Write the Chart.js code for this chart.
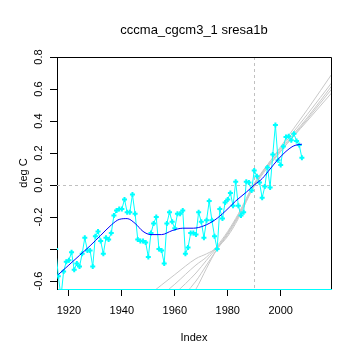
<!DOCTYPE html>
<html>
<head>
<meta charset="utf-8">
<script src="https://cdn.jsdelivr.net/npm/chart.js@4.4.0/dist/chart.umd.min.js"></script>
<style>
  html, body { margin: 0; padding: 0; background: #fff; }
  canvas { display: block; }
</style>
</head>
<body>
<canvas id="tempChart" width="360" height="360"></canvas>
<script>
const chartTitle = 'cccma_cgcm3_1 sresa1b';

// observed yearly anomalies (cyan)
const years = [1915, 1916, 1917, 1918, 1919, 1920, 1921, 1922, 1923, 1924,
  1925, 1926, 1927, 1928, 1929, 1930, 1931, 1932, 1933, 1934,
  1935, 1936, 1937, 1938, 1939, 1940, 1941, 1942, 1943, 1944,
  1945, 1946, 1947, 1948, 1949, 1950, 1951, 1952, 1953, 1954,
  1955, 1956, 1957, 1958, 1959, 1960, 1961, 1962, 1963, 1964,
  1965, 1966, 1967, 1968, 1969, 1970, 1971, 1972, 1973, 1974,
  1975, 1976, 1977, 1978, 1979, 1980, 1981, 1982, 1983, 1984,
  1985, 1986, 1987, 1988, 1989, 1990, 1991, 1992, 1993, 1994,
  1995, 1996, 1997, 1998, 1999, 2000, 2001, 2002, 2003, 2004,
  2005, 2006, 2007, 2008];
const anomaly = [-0.40, -0.57, -0.70, -0.54, -0.48, -0.47, -0.42, -0.53, -0.49, -0.51,
  -0.43, -0.33, -0.41, -0.41, -0.51, -0.32, -0.29, -0.35, -0.43, -0.33,
  -0.34, -0.30, -0.19, -0.16, -0.15, -0.15, -0.09, -0.17, -0.17, -0.06,
  -0.18, -0.34, -0.35, -0.35, -0.36, -0.45, -0.30, -0.24, -0.20, -0.40,
  -0.41, -0.49, -0.24, -0.17, -0.23, -0.27, -0.18, -0.18, -0.16, -0.43,
  -0.39, -0.30, -0.30, -0.31, -0.17, -0.23, -0.33, -0.22, -0.10, -0.22,
  -0.32, -0.40, -0.15, -0.21, -0.11, -0.09, -0.05, -0.13, 0.02, -0.13,
  -0.19, -0.17, 0.02, 0.015, -0.035, 0.09, 0.055, 0.015, -0.08, -0.01,
  0.11, -0.015, 0.19, 0.375, 0.155, 0.125, 0.24, 0.30, 0.305, 0.28,
  0.32, 0.275, 0.25, 0.17];

// smoothed curve (blue)
const smoothYears = [1916, 1920, 1924, 1928, 1932, 1936, 1939, 1942, 1945, 1948,
  1951, 1955, 1959, 1963, 1967, 1971, 1975, 1979, 1983, 1987,
  1990, 1993, 1996, 1999, 2002, 2005, 2008];
const smoothVals = [-0.56, -0.50, -0.44, -0.38, -0.315, -0.25, -0.215, -0.21, -0.24, -0.29,
  -0.31, -0.31, -0.285, -0.27, -0.27, -0.255, -0.22, -0.165, -0.10, -0.045,
  0.0, 0.04, 0.10, 0.16, 0.21, 0.245, 0.255];

// model runs (grey)
const runYears = [1950, 1960, 1968, 1972, 1976, 1980, 1984, 1990, 2000, 2010, 2020];
const run1 = [-0.69, -0.56, -0.46, -0.43, -0.39, -0.30, -0.19, 0.00, 0.24, 0.47, 0.71];
const run2 = [-0.76, -0.62, -0.50, -0.45, -0.38, -0.29, -0.18, 0.01, 0.23, 0.44, 0.655];
const run3 = [-0.84, -0.68, -0.55, -0.47, -0.39, -0.30, -0.19, 0.00, 0.22, 0.42, 0.635];
const run4 = [-0.92, -0.75, -0.60, -0.50, -0.40, -0.31, -0.20, -0.01, 0.21, 0.41, 0.615];
const run5 = [-1.00, -0.82, -0.65, -0.52, -0.40, -0.32, -0.21, 0.00, 0.21, 0.40, 0.59];

const xTicks = [1920, 1940, 1960, 1980, 2000];
const yTicks = [-0.6, -0.4, -0.2, 0.0, 0.2, 0.4, 0.6, 0.8];
const yTickLabels = ['-0.6', '', '-0.2', '0.0', '0.2', '0.4', '0.6', '0.8'];
const refYears = [1990];
const refValues = [0];

const pts = (xs, ys) => xs.map((x, i) => ({ x: x, y: ys[i] }));
const tickFont = { family: 'Liberation Sans', size: 11 };

const runSet = vals => ({
  data: pts(runYears, vals),
  borderColor: '#c8c8c8',
  borderWidth: 1,
  pointRadius: 0,
  cubicInterpolationMode: 'monotone',
  order: 3
});

// titles, dashed reference lines, box and rotated y labels
const decor = {
  id: 'decor',
  beforeDatasetsDraw(chart) {
    const { ctx, chartArea: a, scales: { x, y } } = chart;
    ctx.save();
    ctx.strokeStyle = '#c0c0c0';
    ctx.lineWidth = 1;
    ctx.setLineDash([3, 3]);
    refValues.forEach(v => {
      const py = Math.round(y.getPixelForValue(v)) + 0.5;
      ctx.beginPath(); ctx.moveTo(a.left, py); ctx.lineTo(a.right, py); ctx.stroke();
    });
    refYears.forEach(v => {
      const px = Math.round(x.getPixelForValue(v)) + 0.5;
      ctx.beginPath(); ctx.moveTo(px, a.top); ctx.lineTo(px, a.bottom); ctx.stroke();
    });
    ctx.restore();
  },
  afterDraw(chart) {
    const { ctx, chartArea: a, scales: { y } } = chart;
    ctx.save();
    ctx.strokeStyle = '#000';
    ctx.lineWidth = 1;
    ctx.beginPath();
    ctx.moveTo(a.left, a.top + 0.5); ctx.lineTo(a.right + 0.5, a.top + 0.5);
    ctx.lineTo(a.right + 0.5, a.bottom);
    ctx.stroke();

    ctx.fillStyle = '#000';
    ctx.font = '13px "Liberation Sans"';
    ctx.textAlign = 'center';
    ctx.textBaseline = 'middle';
    ctx.fillText(chartTitle, (a.left + a.right) / 2, 30);

    ctx.font = '11px "Liberation Sans"';
    yTicks.forEach((v, i) => {
      if (!yTickLabels[i]) return;
      ctx.save();
      ctx.translate(39, y.getPixelForValue(v));
      ctx.rotate(-Math.PI / 2);
      ctx.fillText(yTickLabels[i], 0, 0);
      ctx.restore();
    });
    ctx.restore();
  }
};

new Chart(document.getElementById('tempChart'), {
  type: 'line',
  data: {
    datasets: [
      {
        data: pts(smoothYears, smoothVals),
        borderColor: '#0000ff',
        borderWidth: 1,
        pointRadius: 0,
        cubicInterpolationMode: 'monotone',
        order: 1
      },
      {
        data: pts(years, anomaly),
        borderColor: '#00ffff',
        backgroundColor: '#00ffff',
        borderWidth: 1,
        pointStyle: 'cross',
        pointRadius: 2.5,
        pointBorderWidth: 2,
        pointBorderColor: '#00ffff',
        tension: 0,
        order: 2
      },
      runSet(run1), runSet(run2), runSet(run3), runSet(run4), runSet(run5)
    ]
  },
  options: {
    responsive: false,
    devicePixelRatio: 1,
    animation: false,
    layout: { padding: { top: 57, right: 29, left: 0, bottom: 0 } },
    plugins: {
      legend: { display: false },
      tooltip: { enabled: false },
      title: { display: false }
    },
    scales: {
      x: {
        type: 'linear',
        min: 1915.5,
        max: 2019,
        afterBuildTicks: s => { s.ticks = xTicks.map(v => ({ value: v })); },
        afterFit: s => { s.height = 71; },
        ticks: {
          color: '#000',
          font: tickFont,
          padding: 8,
          maxRotation: 0,
          callback: v => String(v)
        },
        grid: { drawOnChartArea: false, tickLength: 7, color: '#000' },
        border: { color: '#00ffff', width: 1 },
        title: {
          display: true,
          text: 'Index',
          color: '#000',
          font: tickFont,
          padding: { top: 0, bottom: 15 }
        }
      },
      y: {
        min: -0.65,
        max: 0.8,
        afterBuildTicks: s => { s.ticks = yTicks.map(v => ({ value: v })); },
        afterFit: s => { s.width = 57; },
        ticks: { display: false },
        grid: { drawOnChartArea: false, tickLength: 7, color: '#000' },
        border: { color: '#000', width: 1 },
        title: {
          display: true,
          text: 'deg C',
          color: '#000',
          font: tickFont,
          padding: { top: 17, bottom: 0 }
        }
      }
    }
  },
  plugins: [decor]
});
</script>
</body>
</html>
